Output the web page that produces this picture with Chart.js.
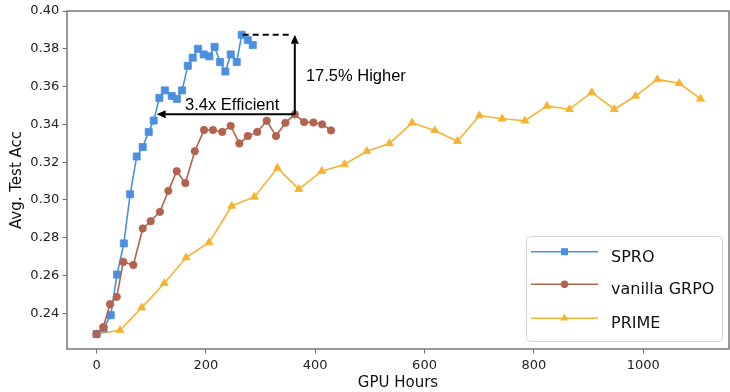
<!DOCTYPE html>
<html>
<head>
<meta charset="utf-8">
<script src="https://cdn.jsdelivr.net/npm/chart.js@4/dist/chart.umd.min.js"></script>
<style>
  html, body { margin: 0; padding: 0; background: #ffffff; }
  #wrap { width: 730px; height: 392px; }
</style>
</head>
<body>
<div id="wrap"><canvas id="c" width="730" height="392"></canvas></div>
<script>
// ---- data ----
const sproHours = [0, 13, 26, 37.5, 50, 61.5, 73.5, 84.5, 95.5, 104.6, 115, 125, 137.6, 147, 156.5, 167, 176, 185.7, 196, 206.4, 216, 226, 235.7, 245.5, 256.5, 265.6, 276.7, 285.8];
const sproAcc   = [0.229, 0.232, 0.239, 0.2605, 0.277, 0.303, 0.323, 0.328, 0.336, 0.342, 0.354, 0.358, 0.355, 0.3535, 0.358, 0.371, 0.3753, 0.380, 0.377, 0.376, 0.381, 0.373, 0.368, 0.377, 0.373, 0.3874, 0.3846, 0.382];

const grpoHours = [0, 12.5, 24.7, 37, 49, 67.4, 84.5, 99, 116, 131.4, 146.7, 162.5, 179.7, 196.7, 213, 230, 245.5, 261.3, 276.7, 294, 311.4, 328.4, 345.5, 362.7, 379.7, 396.7, 412.6, 429];
const grpoAcc   = [0.229, 0.2327, 0.2448, 0.2487, 0.2672, 0.2656, 0.2849, 0.2887, 0.2937, 0.3048, 0.3152, 0.3089, 0.3258, 0.337, 0.337, 0.336, 0.3392, 0.3299, 0.3338, 0.336, 0.3419, 0.3338, 0.3408, 0.3453, 0.3412, 0.341, 0.340, 0.3368];

const primeHours = [0, 43, 82.7, 124, 163.8, 206, 247.3, 288.8, 330.8, 370, 412, 453.5, 494.4, 535.8, 577.3, 618.8, 660.2, 700.5, 742, 783.5, 823.8, 865, 906, 947, 986, 1026, 1066, 1105];
const primeAcc   = [0.229, 0.231, 0.243, 0.2559, 0.2695, 0.2775, 0.2968, 0.3016, 0.3169, 0.3057, 0.3152, 0.3188, 0.3258, 0.3299, 0.3408, 0.3368, 0.3311, 0.3447, 0.343, 0.3419, 0.3497, 0.348, 0.3569, 0.348, 0.355, 0.3638, 0.3617, 0.3535];

const seriesNames = ['SPRO', 'vanilla GRPO', 'PRIME'];
const xTickValues = [0, 200, 400, 600, 800, 1000];
const yTickValues = [0.24, 0.26, 0.28, 0.30, 0.32, 0.34, 0.36, 0.38, 0.40];

const efficientLabel = '3.4x Efficient';
const higherLabel = '17.5% Higher';
const efficientArrowTipHours = 110;     // where the horizontal arrow ends
const efficientTextAt = [162, 0.3475];  // [hours, acc] of text baseline-left
const higherTextAt = [383, 0.3629];

// ---- styles ----
const COLORS = ['#4a8fe0', '#b3624d', '#f6b333'];
const AXIS_GREY = '#6e6e6e';
const TICK_FONT = { family: 'DejaVu Sans', size: 13 };
const TITLE_FONT = { family: 'DejaVu Sans', size: 15 };

function pts(xs, ys) { return xs.map((x, i) => ({ x: x, y: ys[i] })); }

const pointStyles = ['rect', 'circle', 'triangle'];
const pointRadii = [5, 3.7, 4.6];

const datasets = [
  { label: seriesNames[0], data: pts(sproHours, sproAcc), order: 1 },
  { label: seriesNames[1], data: pts(grpoHours, grpoAcc), order: 0 },
  { label: seriesNames[2], data: pts(primeHours, primeAcc), order: 2 }
].map((d, i) => Object.assign(d, {
  borderColor: COLORS[i],
  backgroundColor: COLORS[i],
  pointBackgroundColor: COLORS[i],
  pointBorderColor: COLORS[i],
  pointBorderWidth: 0.8,
  borderWidth: 1.6,
  pointStyle: pointStyles[i],
  pointRadius: pointRadii[i],
  pointHoverRadius: pointRadii[i],
  tension: 0,
  fill: false
}));

function drawMarker(ctx, style, r, x, y, color) {
  ctx.save();
  ctx.fillStyle = color;
  ctx.beginPath();
  if (style === 'rect') {
    const s = r * Math.SQRT1_2;
    ctx.rect(x - s, y - s, 2 * s, 2 * s);
  } else if (style === 'circle') {
    ctx.arc(x, y, r, 0, Math.PI * 2);
  } else {
    for (let k = 0; k < 3; k++) {
      const a = k * 2 * Math.PI / 3;
      const px = x + Math.sin(a) * r, py = y - Math.cos(a) * r;
      if (k === 0) ctx.moveTo(px, py); else ctx.lineTo(px, py);
    }
    ctx.closePath();
  }
  ctx.fill();
  ctx.restore();
}

function arrow(ctx, x1, y1, x2, y2) {
  const ang = Math.atan2(y2 - y1, x2 - x1);
  const L = 9, W = 4;
  const bx = x2 - Math.cos(ang) * L, by = y2 - Math.sin(ang) * L;
  ctx.beginPath();
  ctx.moveTo(x1, y1);
  ctx.lineTo(bx, by);
  ctx.stroke();
  ctx.beginPath();
  ctx.moveTo(x2, y2);
  ctx.lineTo(bx + Math.sin(ang) * W, by - Math.cos(ang) * W);
  ctx.lineTo(bx - Math.sin(ang) * W, by + Math.cos(ang) * W);
  ctx.closePath();
  ctx.fill();
}

const framePlugin = {
  id: 'frame',
  beforeDatasetsDraw(chart) {
    const a = chart.chartArea, ctx = chart.ctx;
    ctx.save();
    ctx.strokeStyle = AXIS_GREY;
    ctx.lineWidth = 1.4;
    ctx.strokeRect(a.left, a.top, a.right - a.left, a.bottom - a.top);
    ctx.restore();
  }
};

const annotatePlugin = {
  id: 'annotate',
  afterDatasetsDraw(chart) {
    const ctx = chart.ctx, xs = chart.scales.x, ys = chart.scales.y;
    let pk = 0; sproAcc.forEach((v, i) => { if (v > sproAcc[pk]) pk = i; });
    let gk = 0; grpoAcc.forEach((v, i) => { if (v > grpoAcc[gk]) gk = i; });
    const sx = xs.getPixelForValue(sproHours[pk]), sy = ys.getPixelForValue(sproAcc[pk]);
    const gx = xs.getPixelForValue(grpoHours[gk]), gy = ys.getPixelForValue(grpoAcc[gk]);
    const tipX = xs.getPixelForValue(efficientArrowTipHours);
    ctx.save();
    ctx.strokeStyle = '#000';
    ctx.fillStyle = '#000';
    ctx.lineWidth = 2;
    // dashed line
    ctx.setLineDash([6, 4]);
    ctx.beginPath();
    ctx.moveTo(sx + 1, sy);
    ctx.lineTo(gx - 4, sy);
    ctx.stroke();
    ctx.setLineDash([]);
    // arrows
    arrow(ctx, gx, gy, gx, sy);
    arrow(ctx, gx, gy, tipX, gy);
    // texts
    ctx.font = '16.5px "Liberation Sans", Arial, sans-serif';
    ctx.textBaseline = 'alphabetic';
    ctx.textAlign = 'left';
    ctx.fillText(efficientLabel, xs.getPixelForValue(efficientTextAt[0]), ys.getPixelForValue(efficientTextAt[1]));
    ctx.fillText(higherLabel, xs.getPixelForValue(higherTextAt[0]), ys.getPixelForValue(higherTextAt[1]));
    ctx.restore();
  }
};

const legendPlugin = {
  id: 'boxLegend',
  afterDatasetsDraw(chart) {
    const a = chart.chartArea, ctx = chart.ctx;
    const w = 196, h = 105;
    const bx = a.right - 7 - w, by = a.bottom - 8 - h;
    ctx.save();
    ctx.beginPath();
    if (ctx.roundRect) ctx.roundRect(bx + 0.5, by + 0.5, w, h, 4); else ctx.rect(bx + 0.5, by + 0.5, w, h);
    ctx.fillStyle = 'rgba(255,255,255,0.85)';
    ctx.fill();
    ctx.strokeStyle = '#d6d6d6';
    ctx.lineWidth = 1;
    ctx.stroke();
    const rows = [15.7, 48.3, 82.3];
    chart.data.datasets.forEach((d, i) => {
      const ry = by + rows[i];
      ctx.strokeStyle = d.borderColor;
      ctx.lineWidth = 1.6;
      ctx.beginPath();
      ctx.moveTo(bx + 5, ry);
      ctx.lineTo(bx + 72, ry);
      ctx.stroke();
      drawMarker(ctx, d.pointStyle, d.pointRadius, bx + 38.5, ry, d.borderColor);
      ctx.fillStyle = '#111';
      ctx.font = '16px "DejaVu Sans"';
      ctx.textBaseline = 'alphabetic';
      ctx.textAlign = 'left';
      ctx.fillText(d.label, bx + 85, ry + 10);
    });
    ctx.restore();
  }
};

new Chart(document.getElementById('c'), {
  type: 'line',
  data: { datasets: datasets },
  options: {
    responsive: false,
    animation: false,
    devicePixelRatio: 1,
    layout: { autoPadding: false, padding: { left: 0, right: 1, top: 11, bottom: 0 } },
    plugins: { legend: { display: false }, tooltip: { enabled: false } },
    scales: {
      x: {
        type: 'linear',
        min: -54,
        max: 1157,
        afterFit(s) { s.height = 43; },
        afterBuildTicks(s) { s.ticks = xTickValues.map(v => ({ value: v })); },
        grid: { drawOnChartArea: false, color: AXIS_GREY, tickLength: 4.5, lineWidth: 1 },
        border: { display: false },
        ticks: { font: TICK_FONT, color: '#222', padding: 4, maxRotation: 0, callback: v => String(v) },
        title: { display: true, text: 'GPU Hours', font: TITLE_FONT, color: '#111', padding: { top: 0, bottom: 0 } }
      },
      y: {
        type: 'linear',
        min: 0.2211,
        max: 0.40,
        afterFit(s) { s.width = 67; },
        afterBuildTicks(s) { s.ticks = yTickValues.map(v => ({ value: v })); },
        grid: { drawOnChartArea: false, color: AXIS_GREY, tickLength: 4.5, lineWidth: 1 },
        border: { display: false },
        ticks: { font: TICK_FONT, color: '#222', padding: 3.2, callback: v => Number(v).toFixed(2) },
        title: { display: true, text: 'Avg. Test Acc', font: TITLE_FONT, color: '#111', padding: { top: 8, bottom: 0 } }
      }
    }
  },
  plugins: [framePlugin, annotatePlugin, legendPlugin]
});
</script>
</body>
</html>
